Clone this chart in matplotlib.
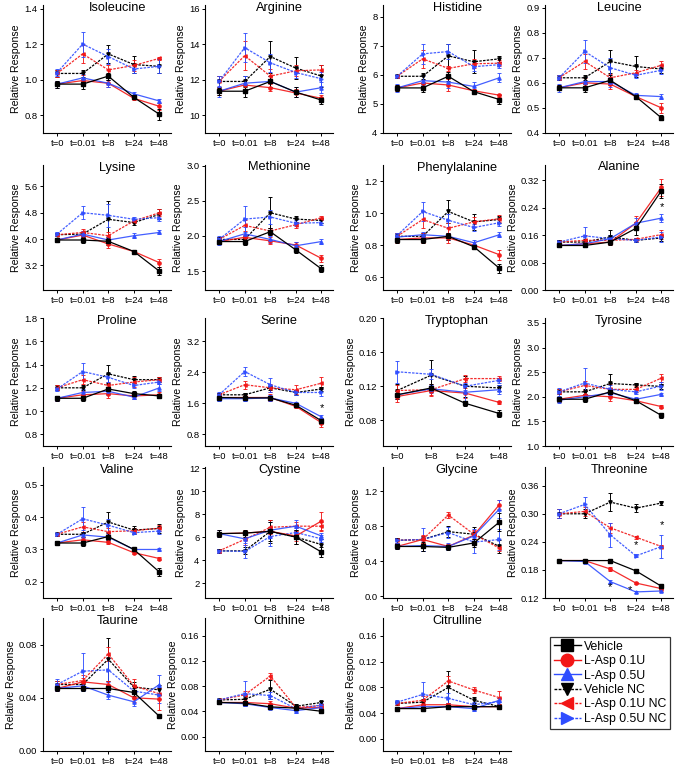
import matplotlib
matplotlib.use("Agg")
import matplotlib.pyplot as plt
from matplotlib.lines import Line2D
import numpy as np

plt.rcParams["font.family"] = ["Liberation Sans", "DejaVu Sans"]

# Series order in every table: Vehicle, L-Asp 0.1U, L-Asp 0.5U,
# Vehicle NC, L-Asp 0.1U NC, L-Asp 0.5U NC
series = ["Vehicle", "L-Asp 0.1U", "L-Asp 0.5U",
          "Vehicle NC", "L-Asp 0.1U NC", "L-Asp 0.5U NC"]
timepoints = ["t=0", "t=0.01", "t=8", "t=24", "t=48"]
timepoints_trp = ["t=0", "t=8", "t=24", "t=48"]

isoleucine = [[0.975, 0.975, 1.02, 0.90, 0.805],
              [0.975, 0.995, 0.98, 0.895, 0.85],
              [0.975, 1.01, 0.98, 0.92, 0.88],
              [1.035, 1.035, 1.145, 1.085, 1.075],
              [1.035, 1.145, 1.055, 1.08, 1.12],
              [1.04, 1.20, 1.13, 1.06, 1.075]]
isoleucine_err = [[0.02, 0.03, 0.02, 0.01, 0.03],
                  [0.02, 0.03, 0.02, 0.01, 0.02],
                  [0.02, 0.02, 0.02, 0.01, 0.01],
                  [0.02, 0.02, 0.05, 0.05, 0.04],
                  [0.02, 0.05, 0.03, 0.03, 0.01],
                  [0.02, 0.07, 0.04, 0.02, 0.04]]

arginine = [[11.35, 11.35, 11.9, 11.3, 10.85],
            [11.35, 11.7, 11.55, 11.25, 10.95],
            [11.35, 11.8, 11.9, 11.3, 11.55],
            [11.9, 11.9, 13.3, 12.65, 12.2],
            [11.9, 13.35, 12.2, 12.5, 12.55],
            [11.9, 13.8, 12.95, 12.4, 12.05]]
arginine_err = [[0.2, 0.3, 0.3, 0.3, 0.2],
                [0.2, 0.3, 0.2, 0.2, 0.2],
                [0.3, 0.4, 0.3, 0.3, 0.3],
                [0.3, 0.3, 0.9, 0.6, 0.6],
                [0.3, 0.8, 0.4, 0.3, 0.3],
                [0.3, 0.8, 0.5, 0.3, 0.4]]

histidine = [[5.55, 5.55, 5.95, 5.42, 5.15],
             [5.55, 5.72, 5.65, 5.45, 5.3],
             [5.55, 5.8, 5.75, 5.6, 5.9],
             [5.95, 5.95, 6.65, 6.45, 6.55],
             [5.95, 6.55, 6.22, 6.38, 6.4],
             [5.95, 6.72, 6.8, 6.28, 6.35]]
histidine_err = [[0.1, 0.15, 0.15, 0.05, 0.15],
                 [0.1, 0.1, 0.2, 0.05, 0.05],
                 [0.15, 0.15, 0.2, 0.15, 0.15],
                 [0.05, 0.1, 0.4, 0.4, 0.1],
                 [0.05, 0.3, 0.1, 0.15, 0.1],
                 [0.05, 0.35, 0.25, 0.15, 0.1]]

leucine = [[0.58, 0.58, 0.61, 0.545, 0.46],
           [0.58, 0.60, 0.595, 0.545, 0.50],
           [0.58, 0.605, 0.605, 0.55, 0.545],
           [0.62, 0.62, 0.685, 0.665, 0.655],
           [0.62, 0.685, 0.62, 0.64, 0.67],
           [0.62, 0.725, 0.66, 0.63, 0.65]]
leucine_err = [[0.01, 0.015, 0.02, 0.01, 0.01],
               [0.01, 0.02, 0.02, 0.01, 0.02],
               [0.015, 0.02, 0.02, 0.01, 0.01],
               [0.01, 0.01, 0.045, 0.04, 0.015],
               [0.01, 0.03, 0.015, 0.01, 0.015],
               [0.01, 0.045, 0.04, 0.01, 0.015]]

lysine = [[3.97, 3.97, 3.93, 3.62, 3.02],
          [3.97, 4.12, 3.85, 3.62, 3.28],
          [3.97, 4.15, 3.97, 4.1, 4.2],
          [4.13, 4.15, 4.6, 4.5, 4.75],
          [4.13, 4.2, 4.1, 4.55, 4.8],
          [4.15, 4.8, 4.72, 4.6, 4.65]]
lysine_err = [[0.05, 0.1, 0.1, 0.05, 0.12],
              [0.05, 0.12, 0.12, 0.05, 0.12],
              [0.05, 0.08, 0.1, 0.08, 0.06],
              [0.05, 0.05, 0.55, 0.07, 0.15],
              [0.05, 0.1, 0.12, 0.07, 0.1],
              [0.05, 0.2, 0.35, 0.07, 0.1]]

methionine = [[1.92, 1.92, 2.06, 1.80, 1.53],
              [1.92, 1.98, 1.93, 1.87, 1.68],
              [1.92, 2.03, 1.95, 1.86, 1.92],
              [1.95, 1.95, 2.33, 2.24, 2.22],
              [1.95, 2.15, 2.07, 2.16, 2.26],
              [1.95, 2.24, 2.27, 2.18, 2.19]]
methionine_err = [[0.03, 0.05, 0.05, 0.04, 0.05],
                  [0.03, 0.04, 0.05, 0.05, 0.05],
                  [0.05, 0.1, 0.05, 0.05, 0.04],
                  [0.03, 0.05, 0.22, 0.04, 0.03],
                  [0.03, 0.08, 0.05, 0.04, 0.03],
                  [0.05, 0.18, 0.1, 0.04, 0.03]]

phenylalanine = [[0.835, 0.835, 0.855, 0.79, 0.655],
                 [0.835, 0.845, 0.845, 0.80, 0.74],
                 [0.85, 0.865, 0.855, 0.815, 0.865],
                 [0.855, 0.855, 1.01, 0.945, 0.96],
                 [0.855, 0.96, 0.905, 0.945, 0.965],
                 [0.86, 1.01, 0.955, 0.91, 0.94]]
phenylalanine_err = [[0.02, 0.02, 0.02, 0.01, 0.03],
                     [0.02, 0.03, 0.03, 0.02, 0.03],
                     [0.02, 0.02, 0.02, 0.015, 0.015],
                     [0.02, 0.02, 0.07, 0.05, 0.02],
                     [0.02, 0.05, 0.03, 0.03, 0.02],
                     [0.015, 0.06, 0.04, 0.02, 0.02]]

alanine = [[0.13, 0.13, 0.14, 0.18, 0.29],
           [0.13, 0.135, 0.14, 0.195, 0.30],
           [0.13, 0.135, 0.15, 0.195, 0.21],
           [0.14, 0.14, 0.155, 0.145, 0.152],
           [0.14, 0.145, 0.145, 0.148, 0.162],
           [0.14, 0.158, 0.15, 0.145, 0.155]]
alanine_err = [[0.005, 0.005, 0.01, 0.02, 0.02],
               [0.005, 0.005, 0.01, 0.02, 0.025],
               [0.005, 0.005, 0.01, 0.015, 0.012],
               [0.005, 0.01, 0.02, 0.005, 0.01],
               [0.005, 0.015, 0.01, 0.005, 0.012],
               [0.005, 0.025, 0.01, 0.005, 0.015]]

proline = [[1.11, 1.11, 1.19, 1.15, 1.13],
           [1.11, 1.14, 1.15, 1.13, 1.14],
           [1.11, 1.16, 1.17, 1.12, 1.20],
           [1.20, 1.20, 1.32, 1.27, 1.27],
           [1.20, 1.27, 1.22, 1.25, 1.27],
           [1.19, 1.34, 1.29, 1.22, 1.25]]
proline_err = [[0.02, 0.02, 0.04, 0.02, 0.02],
               [0.02, 0.03, 0.04, 0.03, 0.02],
               [0.02, 0.03, 0.03, 0.02, 0.03],
               [0.02, 0.02, 0.08, 0.03, 0.02],
               [0.02, 0.04, 0.03, 0.04, 0.02],
               [0.02, 0.07, 0.04, 0.02, 0.02]]

serine = [[1.75, 1.74, 1.74, 1.55, 1.15],
          [1.75, 1.75, 1.75, 1.52, 1.10],
          [1.72, 1.72, 1.74, 1.60, 1.25],
          [1.82, 1.82, 2.00, 1.88, 1.97],
          [1.82, 2.08, 2.00, 1.95, 2.12],
          [1.82, 2.42, 2.08, 1.88, 1.88]]
serine_err = [[0.05, 0.05, 0.06, 0.04, 0.08],
              [0.05, 0.07, 0.08, 0.05, 0.12],
              [0.05, 0.05, 0.08, 0.04, 0.05],
              [0.05, 0.05, 0.05, 0.06, 0.06],
              [0.05, 0.1, 0.1, 0.12, 0.15],
              [0.08, 0.12, 0.18, 0.06, 0.1]]

tryptophan = [[0.11, 0.118, 0.10, 0.088],
              [0.108, 0.115, 0.112, 0.101],
              [0.11, 0.117, 0.113, 0.116],
              [0.115, 0.133, 0.12, 0.118],
              [0.115, 0.116, 0.129, 0.129],
              [0.137, 0.134, 0.12, 0.127]]
tryptophan_err = [[0.005, 0.005, 0.003, 0.004],
                  [0.006, 0.005, 0.006, 0.002],
                  [0.005, 0.005, 0.01, 0.005],
                  [0.008, 0.018, 0.012, 0.004],
                  [0.007, 0.007, 0.004, 0.003],
                  [0.013, 0.006, 0.004, 0.003]]

tyrosine = [[1.95, 1.95, 2.10, 1.92, 1.62],
            [1.95, 2.03, 2.00, 1.92, 1.80],
            [1.93, 2.00, 2.08, 1.95, 2.05],
            [2.10, 2.10, 2.27, 2.24, 2.21],
            [2.10, 2.23, 2.15, 2.15, 2.38],
            [2.10, 2.28, 2.15, 2.10, 2.22]]
tyrosine_err = [[0.05, 0.05, 0.08, 0.05, 0.05],
                [0.05, 0.08, 0.08, 0.05, 0.03],
                [0.05, 0.05, 0.08, 0.05, 0.03],
                [0.05, 0.05, 0.2, 0.04, 0.05],
                [0.05, 0.1, 0.1, 0.06, 0.08],
                [0.08, 0.3, 0.08, 0.04, 0.08]]

valine = [[0.32, 0.32, 0.34, 0.30, 0.23],
          [0.32, 0.33, 0.322, 0.29, 0.272],
          [0.32, 0.345, 0.338, 0.30, 0.30],
          [0.347, 0.347, 0.385, 0.36, 0.365],
          [0.347, 0.37, 0.355, 0.358, 0.366],
          [0.347, 0.395, 0.375, 0.352, 0.357]]
valine_err = [[0.005, 0.008, 0.01, 0.005, 0.012],
              [0.005, 0.01, 0.005, 0.005, 0.005],
              [0.005, 0.01, 0.01, 0.005, 0.005],
              [0.005, 0.008, 0.03, 0.012, 0.015],
              [0.005, 0.015, 0.01, 0.008, 0.01],
              [0.005, 0.035, 0.02, 0.005, 0.008]]

cystine = [[6.3, 6.35, 6.5, 6.0, 4.7],
           [6.3, 6.35, 6.5, 6.1, 7.4],
           [6.3, 5.85, 6.6, 6.95, 6.1],
           [4.8, 4.8, 6.5, 6.0, 5.35],
           [4.8, 5.8, 6.85, 6.95, 6.95],
           [4.8, 4.75, 6.05, 6.4, 5.85]]
cystine_err = [[0.3, 0.3, 0.8, 0.6, 0.4],
               [0.3, 0.3, 0.4, 0.4, 0.8],
               [0.3, 0.4, 0.7, 0.5, 0.3],
               [0.2, 0.3, 1.0, 0.6, 0.5],
               [0.2, 0.5, 0.6, 0.4, 0.4],
               [0.2, 0.6, 0.8, 0.4, 0.3]]

glycine = [[0.57, 0.57, 0.56, 0.61, 0.85],
           [0.57, 0.65, 0.57, 0.70, 1.05],
           [0.57, 0.58, 0.57, 0.69, 1.00],
           [0.64, 0.65, 0.74, 0.71, 0.57],
           [0.64, 0.65, 0.93, 0.71, 0.55],
           [0.64, 0.65, 0.73, 0.62, 0.65]]
glycine_err = [[0.03, 0.05, 0.03, 0.05, 0.1],
               [0.03, 0.05, 0.03, 0.05, 0.05],
               [0.03, 0.06, 0.04, 0.08, 0.1],
               [0.03, 0.04, 0.06, 0.08, 0.07],
               [0.03, 0.04, 0.03, 0.05, 0.03],
               [0.03, 0.13, 0.06, 0.12, 0.12]]

threonine = [[0.20, 0.20, 0.20, 0.178, 0.145],
             [0.20, 0.20, 0.182, 0.152, 0.14],
             [0.20, 0.198, 0.155, 0.133, 0.135],
             [0.30, 0.30, 0.325, 0.312, 0.323],
             [0.30, 0.305, 0.27, 0.25, 0.23],
             [0.30, 0.32, 0.255, 0.21, 0.23]]
threonine_err = [[0.002, 0.002, 0.002, 0.003, 0.005],
                 [0.002, 0.003, 0.004, 0.003, 0.005],
                 [0.002, 0.004, 0.004, 0.003, 0.003],
                 [0.01, 0.01, 0.02, 0.008, 0.004],
                 [0.01, 0.01, 0.01, 0.003, 0.003],
                 [0.01, 0.015, 0.025, 0.003, 0.025]]

taurine = [[0.047, 0.047, 0.047, 0.044, 0.026],
           [0.047, 0.052, 0.050, 0.040, 0.039],
           [0.047, 0.049, 0.042, 0.037, 0.050],
           [0.050, 0.050, 0.069, 0.048, 0.046],
           [0.050, 0.053, 0.073, 0.049, 0.043],
           [0.050, 0.060, 0.061, 0.045, 0.042]]
taurine_err = [[0.002, 0.002, 0.003, 0.003, 0.001],
               [0.002, 0.003, 0.003, 0.003, 0.008],
               [0.002, 0.004, 0.003, 0.003, 0.007],
               [0.003, 0.003, 0.016, 0.004, 0.004],
               [0.003, 0.004, 0.005, 0.005, 0.004],
               [0.004, 0.014, 0.009, 0.005, 0.006]]

ornithine = [[0.054, 0.053, 0.047, 0.045, 0.040],
             [0.054, 0.054, 0.052, 0.045, 0.046],
             [0.054, 0.052, 0.046, 0.041, 0.046],
             [0.058, 0.059, 0.075, 0.048, 0.054],
             [0.058, 0.066, 0.096, 0.046, 0.049],
             [0.058, 0.068, 0.065, 0.044, 0.050]]
ornithine_err = [[0.002, 0.003, 0.003, 0.003, 0.002],
                 [0.002, 0.003, 0.004, 0.002, 0.002],
                 [0.002, 0.003, 0.003, 0.003, 0.002],
                 [0.002, 0.005, 0.015, 0.003, 0.002],
                 [0.002, 0.006, 0.004, 0.003, 0.003],
                 [0.002, 0.02, 0.005, 0.003, 0.003]]

citrulline = [[0.047, 0.047, 0.050, 0.050, 0.050],
              [0.047, 0.053, 0.053, 0.050, 0.050],
              [0.047, 0.050, 0.050, 0.047, 0.060],
              [0.055, 0.057, 0.080, 0.060, 0.050],
              [0.055, 0.060, 0.090, 0.076, 0.064],
              [0.057, 0.069, 0.063, 0.053, 0.058]]
citrulline_err = [[0.002, 0.002, 0.002, 0.002, 0.002],
                  [0.003, 0.003, 0.003, 0.003, 0.003],
                  [0.003, 0.003, 0.003, 0.003, 0.003],
                  [0.003, 0.005, 0.025, 0.005, 0.004],
                  [0.003, 0.006, 0.008, 0.005, 0.01],
                  [0.003, 0.02, 0.008, 0.005, 0.005]]

# significance stars (x index, y value)
alanine_stars = [(4, 0.243)]
serine_stars = [(4, 1.49)]
threonine_stars = [(2, 0.144), (2.75, 0.138), (3, 0.234), (4, 0.275)]

# name, means, errors, y ticks, tick format, y limits, x labels, stars
panels = [
    ("Isoleucine", isoleucine, isoleucine_err, [0.8, 1.0, 1.2, 1.4], "%.1f", (0.70, 1.42), timepoints, []),
    ("Arginine", arginine, arginine_err, [10, 12, 14, 16], "%d", (9.0, 16.2), timepoints, []),
    ("Histidine", histidine, histidine_err, [4, 5, 6, 7, 8], "%d", (4.0, 8.4), timepoints, []),
    ("Leucine", leucine, leucine_err, [0.4, 0.5, 0.6, 0.7, 0.8, 0.9], "%.1f", (0.4, 0.91), timepoints, []),
    ("Lysine", lysine, lysine_err, [3.2, 4.0, 4.8, 5.6], "%.1f", (2.45, 6.25), timepoints, []),
    ("Methionine", methionine, methionine_err, [1.5, 2.0, 2.5, 3.0], "%.1f", (1.23, 3.01), timepoints, []),
    ("Phenylalanine", phenylalanine, phenylalanine_err, [0.6, 0.8, 1.0, 1.2], "%.1f", (0.52, 1.3), timepoints, []),
    ("Alanine", alanine, alanine_err, [0.0, 0.08, 0.16, 0.24, 0.32], "%.2f", (0.0, 0.365), timepoints, alanine_stars),
    ("Proline", proline, proline_err, [0.8, 1.0, 1.2, 1.4, 1.6, 1.8], "%.1f", (0.7, 1.8), timepoints, []),
    ("Serine", serine, serine_err, [0.8, 1.6, 2.4, 3.2], "%.1f", (0.5, 3.8), timepoints, serine_stars),
    ("Tryptophan", tryptophan, tryptophan_err, [0.08, 0.12, 0.16, 0.20], "%.2f", (0.05, 0.2), timepoints_trp, []),
    ("Tyrosine", tyrosine, tyrosine_err, [1.0, 1.5, 2.0, 2.5, 3.0, 3.5], "%.1f", (1.0, 3.6), timepoints, []),
    ("Valine", valine, valine_err, [0.2, 0.3, 0.4, 0.5], "%.1f", (0.15, 0.555), timepoints, []),
    ("Cystine", cystine, cystine_err, [2, 4, 6, 8, 10, 12], "%d", (0.7, 12.1), timepoints, []),
    ("Glycine", glycine, glycine_err, [0.0, 0.4, 0.8, 1.2], "%.1f", (-0.02, 1.48), timepoints, []),
    ("Threonine", threonine, threonine_err, [0.12, 0.18, 0.24, 0.30, 0.36], "%.2f", (0.12, 0.40), timepoints, threonine_stars),
    ("Taurine", taurine, taurine_err, [0.0, 0.04, 0.08], "%.2f", (0.0, 0.10), timepoints, []),
    ("Ornithine", ornithine, ornithine_err, [0.0, 0.04, 0.08, 0.12, 0.16], "%.2f", (-0.023, 0.188), timepoints, []),
    ("Citrulline", citrulline, citrulline_err, [0.0, 0.04, 0.08, 0.12, 0.16], "%.2f", (-0.019, 0.188), timepoints, []),
]

colors = ["black", "#f21616", "#2f4dff", "black", "#f21616", "#2f4dff"]
markers = ["s", "o", "^", "v", "<", ">"]
styles = ["-", "-", "-", (0, (2, 1)), (0, (2, 1)), (0, (2, 1))]

W, H = 685, 765
fig = plt.figure(figsize=(W / 100, H / 100), dpi=100)

col_left = [43, 205, 383, 545]
row_top = [5, 165, 318, 467, 618]
row_bottom = [133, 290, 446, 598, 751]
ax_w = 128

for i, (name, means, errs, yt, fmt, ylim, xlabels, stars) in enumerate(panels):
    r, c = divmod(i, 4)
    ax = fig.add_axes([col_left[c] / W, 1 - row_bottom[r] / H,
                       ax_w / W, (row_bottom[r] - row_top[r]) / H])
    xs = np.linspace(0, 4, len(xlabels))
    for k in [3, 4, 5, 1, 2, 0]:
        ax.errorbar(xs, means[k], yerr=errs[k], color=colors[k],
                    marker=markers[k], markersize=2.4, linestyle=styles[k],
                    linewidth=0.9, elinewidth=0.7, capsize=1.3, capthick=0.7,
                    alpha=0.9 if k in (1, 2, 4, 5) else 1.0)
    for sx, sy in stars:
        ax.text(sx, sy, "*", ha="center", va="center", fontsize=8)
    ax.set_xlim(-0.55, 4.45)
    ax.set_ylim(*ylim)
    ax.set_xticks(xs)
    ax.set_xticklabels(xlabels, fontsize=6.8)
    ax.set_yticks(yt)
    ax.set_yticklabels([fmt % v for v in yt], fontsize=6.8)
    ax.tick_params(length=2.5, width=0.7, pad=1.5)
    ax.set_ylabel("Relative Response", fontsize=7.6, labelpad=2)
    for s in ["top", "right"]:
        ax.spines[s].set_visible(False)
    for s in ["left", "bottom"]:
        ax.spines[s].set_linewidth(0.8)
    ax.text(0.58, 0.98, name, transform=ax.transAxes, ha="center",
            va="center", fontsize=9.2)

handles = [Line2D([0], [0], color=colors[k], marker=markers[k], markersize=9,
                  linestyle=styles[k], linewidth=1.0) for k in range(6)]
leg = fig.legend(handles, series, loc="upper left",
                 bbox_to_anchor=(550 / W, 1 - 637 / H), fontsize=8.8,
                 frameon=True, fancybox=False, edgecolor="black",
                 handlelength=2.2, handletextpad=0.3, labelspacing=0.2,
                 borderpad=0.3, borderaxespad=0)
leg.get_frame().set_linewidth(0.9)

fig.savefig("out.png", dpi=100)
